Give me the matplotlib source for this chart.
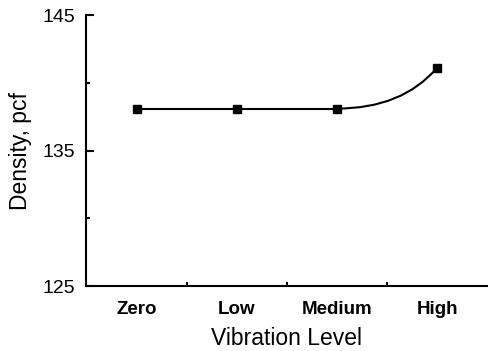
import numpy as np
import matplotlib
matplotlib.use("Agg")
from matplotlib import pyplot as plt
from matplotlib.path import Path
from matplotlib.patches import PathPatch

levels = ["Zero", "Low", "Medium", "High"]
density = [138.1, 138.1, 138.1, 141.1]

plt.rcParams['font.family'] = ['Liberation Sans', 'DejaVu Sans']

fig = plt.figure(figsize=(4.88, 3.51), dpi=100)
ax = fig.add_axes([0.176, 0.185, 0.822, 0.772])

x = np.arange(len(levels))
# straight segments for the flat part, smooth curve up to the last point
ax.plot(x[:3], density[:3], color="black", lw=1.5)
verts = [(x[2], density[2]), (x[2] + 0.65, density[2]), (x[3], density[3])]
ax.add_patch(PathPatch(Path(verts, [Path.MOVETO, Path.CURVE3, Path.CURVE3]),
                       fill=False, color="black", lw=1.5))
ax.plot(x, density, linestyle="none", marker="s", ms=5.5, color="black")

ax.set_xlim(-0.51, 3.5)
ax.set_ylim(125, 145)
ax.spines["top"].set_visible(False)
ax.spines["right"].set_visible(False)
for s in ("left", "bottom"):
    ax.spines[s].set_linewidth(1.5)

ax.set_yticks([125, 135, 145])
ax.set_yticks([130, 140], minor=True)
ax.tick_params(axis="y", which="major", direction="in", length=6, width=1.5,
               labelsize=14, pad=8)
ax.tick_params(axis="y", which="minor", direction="in", length=3, width=1.5)

ax.set_xticks(x)
ax.set_xticklabels(levels, fontweight="bold", fontsize=13.5)
ax.set_xticks([0.5, 1.5, 2.5], minor=True)
ax.tick_params(axis="x", which="major", length=0, pad=11)
ax.tick_params(axis="x", which="minor", direction="in", length=3, width=1.5)

ax.set_xlabel("Vibration Level", fontsize=16.5, labelpad=6.5)
ax.set_ylabel("Density, pcf", fontsize=16.5, labelpad=7)

fig.savefig("out.png", dpi=100)
